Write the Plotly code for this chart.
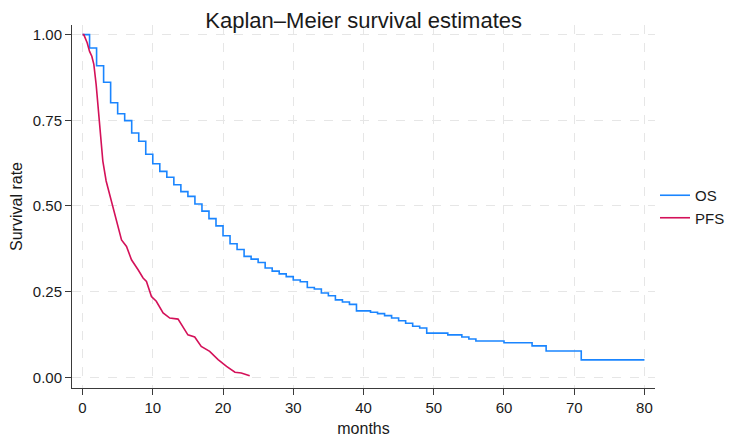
import plotly.graph_objects as go

# OS: Kaplan-Meier step estimates (months, survival)
os_months = [0, 1, 2, 3, 4, 5, 6, 7, 8, 9, 10, 11, 12, 13, 14, 15, 16, 17, 18, 19,
             20, 21, 22, 23, 24, 25, 26, 27, 28, 29, 30, 31, 32, 33, 34, 35, 36, 37,
             38, 39, 41, 42, 43, 44, 45, 46, 47, 48, 49, 52, 54, 55, 56, 60, 64, 66,
             71, 80]
os_surv = [1.000, 0.961, 0.909, 0.861, 0.801, 0.769, 0.749, 0.713, 0.689, 0.651,
           0.623, 0.601, 0.584, 0.562, 0.542, 0.528, 0.506, 0.485, 0.463, 0.442,
           0.413, 0.390, 0.373, 0.353, 0.345, 0.335, 0.319, 0.310, 0.302, 0.294,
           0.284, 0.279, 0.262, 0.258, 0.246, 0.238, 0.226, 0.220, 0.213, 0.194,
           0.190, 0.186, 0.180, 0.173, 0.165, 0.158, 0.149, 0.144, 0.129, 0.124,
           0.118, 0.112, 0.106, 0.101, 0.092, 0.077, 0.051, 0.051]

# PFS: many small steps, read as a dense curve
pfs_months = [0, 0.18, 0.66, 1.0, 1.32, 1.61, 1.94, 2.28, 2.56, 2.89, 3.36, 3.98,
              4.55, 4.84, 5.55, 6.26, 6.97, 7.91, 8.62, 9.1, 9.81, 10.5, 11.47,
              12.42, 13.6, 15.0, 15.97, 16.9, 18.1, 19.3, 20.5, 21.7, 22.6, 23.8]
pfs_surv = [1.000, 1.000, 0.976, 0.951, 0.937, 0.913, 0.854, 0.777, 0.708, 0.631,
            0.573, 0.524, 0.485, 0.460, 0.401, 0.382, 0.343, 0.314, 0.290, 0.280,
            0.236, 0.222, 0.188, 0.173, 0.170, 0.124, 0.118, 0.090, 0.076, 0.052,
            0.032, 0.015, 0.013, 0.005]

x_ticks = [0, 10, 20, 30, 40, 50, 60, 70, 80]
y_ticks = [0, 0.25, 0.5, 0.75, 1.0]

FONT = "Liberation Sans, Arial, sans-serif"
AXIS_COL = "#3a3a3a"
GRID_COL = "#e6e6e6"

fig = go.Figure()

fig.add_scatter(x=os_months, y=os_surv, name="OS", mode="lines",
                line_shape="hv", line=dict(color="#1a85ff", width=1.6))
fig.add_scatter(x=pfs_months, y=pfs_surv, name="PFS", mode="lines",
                line=dict(color="#d41159", width=1.6))

# page body adds 8px around the figure, so the figure is 8px smaller
fig.update_layout(
    width=741, height=429,
    margin=dict(l=64, r=94, t=17, b=49),
    paper_bgcolor="white", plot_bgcolor="white",
    font=dict(family=FONT, size=15, color="#1a1a1a"),
    title=dict(text="Kaplan–Meier survival estimates", x=0.48, xanchor="center",
               y=0.972, yanchor="middle", font=dict(size=22, color="#1a1a1a")),
    legend=dict(x=1.0, y=0.5, xanchor="left", yanchor="middle",
                font=dict(size=15), bgcolor="rgba(0,0,0,0)"),
    showlegend=True,
)

fig.update_xaxes(
    range=[-1.5, 81.5], tickvals=x_ticks, ticks="outside", ticklen=6,
    tickcolor=AXIS_COL, showline=True, linecolor=AXIS_COL, linewidth=1,
    showgrid=True, gridcolor=GRID_COL, griddash="dash", gridwidth=1,
    zeroline=False, tickfont=dict(size=15), automargin=False,
    title=dict(text="months", font=dict(size=16), standoff=10),
)
fig.update_yaxes(
    range=[-0.031, 1.028], tickvals=y_ticks, tickformat=".2f", ticks="outside",
    ticklen=6, tickcolor=AXIS_COL, showline=True, linecolor=AXIS_COL, linewidth=1,
    showgrid=True, gridcolor=GRID_COL, griddash="dash", gridwidth=1,
    zeroline=False, tickfont=dict(size=15), automargin=False,
    title=dict(text="Survival rate", font=dict(size=16), standoff=14),
)

fig.write_html("out.html")
